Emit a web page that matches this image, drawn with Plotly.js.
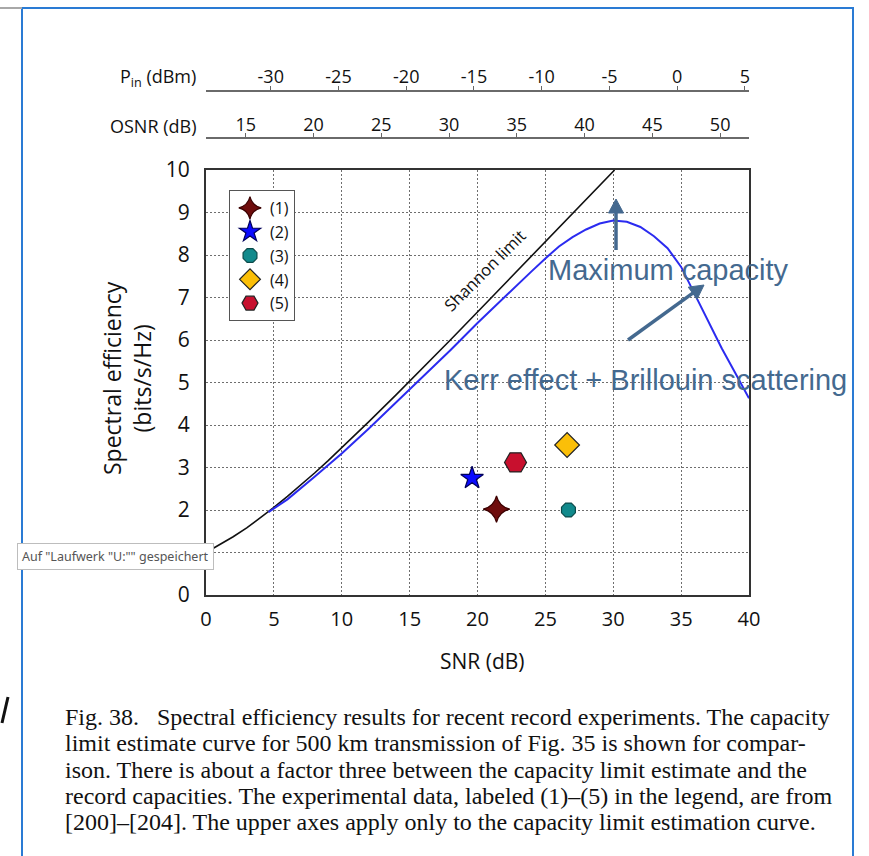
<!DOCTYPE html>
<html><head><meta charset="utf-8">
<script src="https://cdn.plot.ly/plotly-3.0.1.min.js"></script>
<style>html,body{margin:0;padding:0;background:#fff;overflow:hidden}</style>
</head><body><div id="chart" style="width:869px;height:856px"></div>
<script>
// ---- data ----
const snrShannon = [0,1,2,3,4,5,6,7,8,9,10,12,14,16,18,20,22,24,26,28,30,30.1];
const seShannon  = [1.00,1.18,1.37,1.58,1.81,2.06,2.32,2.59,2.87,3.16,3.46,4.08,4.71,5.35,6.00,6.66,7.32,7.98,8.64,9.30,9.97,10.0];

const snrCapacity = [4.6,6,8,10,12,14,16,18,20,22,24,25,26,27,28,29,30,31,32,33,34,35,36,37,38,39,40];
const seCapacity  = [1.95,2.25,2.78,3.33,3.92,4.53,5.14,5.76,6.40,7.02,7.62,7.92,8.20,8.42,8.60,8.74,8.81,8.78,8.66,8.44,8.16,7.72,7.08,6.42,5.80,5.22,4.63];

const expLabels = ['(1)','(2)','(3)','(4)','(5)'];
const expSnr    = [21.4, 19.6, 26.7, 26.6, 22.8];
const expSe     = [2.02, 2.75, 2.00, 3.53, 3.12];

const snrTicks  = [0,5,10,15,20,25,30,35,40];
const seTicks   = [0,2,3,4,5,6,7,8,9,10];   // "1" is hidden under the tooltip in the reference
const pinTicks  = [-30,-25,-20,-15,-10,-5,0,5];
const osnrTicks = [15,20,25,30,35,40,45,50];

const captionLines = [
  'Fig. 38.\u00a0\u00a0\u00a0Spectral efficiency results for recent record experiments. The capacity',
  'limit estimate curve for 500 km transmission of Fig. 35 is shown for compar-',
  'ison. There is about a factor three between the capacity limit estimate and the',
  'record capacities. The experimental data, labeled (1)\u2013(5) in the legend, are from',
  '[200]\u2013[204]. The upper axes apply only to the capacity limit estimation curve.'
];

// ---- styles ----
const expSymbols = ['star-diamond','star','octagon','diamond','hexagon2'];
const expColors  = ['#6e0c0c','#0a0aff','#118a8c','#fbbf08','#c8102e'];
const expSizes   = [19,17,15,19,22];
const expLines   = ['#3a0000','#00005a','#0b4a4a','#222222','#222222'];

const W=869,H=856,ML=206,MR=120,MT=60,MB=261;
const PW=W-ML-MR, PH=H-MT-MB;
function px(x){return (x-ML)/PW;}
function py(y){return (H-MB-y)/PH;}

const FONT='Open Sans';
const ANN='#44698f';

const traces = [
  {x:snrShannon, y:seShannon, mode:'lines', line:{color:'#111',width:1.6}, showlegend:false, hoverinfo:'skip'},
  {x:snrCapacity, y:seCapacity, mode:'lines', line:{color:'#2b2bf0',width:2}, showlegend:false, hoverinfo:'skip'}
];
for (let i=0;i<expLabels.length;i++){
  traces.push({x:[expSnr[i]], y:[expSe[i]], name:expLabels[i], mode:'markers',
    marker:{symbol:expSymbols[i], color:expColors[i], size:expSizes[i], line:{color:expLines[i],width:1.2}},
    cliponaxis:false});
}
traces.push({x:pinTicks, y:pinTicks.map(()=>5), xaxis:'x2', yaxis:'y', mode:'markers', marker:{opacity:0}, showlegend:false, hoverinfo:'skip'});
traces.push({x:osnrTicks, y:osnrTicks.map(()=>5), xaxis:'x3', yaxis:'y', mode:'markers', marker:{opacity:0}, showlegend:false, hoverinfo:'skip'});

const topAxis = (pos, range, ticks) => ({
  overlaying:'x', anchor:'free', position:pos, side:'top', range:range, tickvals:ticks, ticktext:ticks.map(v=>String(v)),
  ticks:'outside', ticklen:4, tickcolor:'#666', showline:true, linecolor:'#6a6a6a', linewidth:2, ticklabelstandoff:-5,
  showgrid:false, zeroline:false, tickfont:{family:FONT,size:18,color:'#111'}, fixedrange:true
});

function ann(text, x, y, font, extra){
  return Object.assign({text:text, x:px(x), y:py(y), xref:'paper', yref:'paper', xanchor:'center', yanchor:'middle',
    showarrow:false, font:font}, extra||{});
}

const annotations = [
  ann('SNR (dB)', 482, 661, {family:FONT,size:21,color:'#111'}),
  ann('Spectral efficiency<br>(bits/s/Hz)', 127, 378, {family:FONT,size:23,color:'#111'}, {textangle:-90}),
  ann('P<sub>in</sub> (dBm)', 198, 77, {family:FONT,size:18,color:'#111'}, {xanchor:'right'}),
  ann('OSNR (dB)', 198, 126, {family:FONT,size:18,color:'#111'}, {xanchor:'right'}),
  ann('Shannon limit', 484, 270, {family:FONT,size:16.5,color:'#111'}, {textangle:-45}),
  ann('Maximum capacity', 668, 270, {family:'Liberation Sans',size:29,color:ANN}),
  ann('Kerr effect + Brillouin scattering', 645, 380, {family:'Liberation Sans',size:29,color:ANN}),
  ann('Auf "Laufwerk "U:"" gespeichert', 17, 556, {family:'Noto Sans',size:12.5,color:'#555'},
      {xanchor:'left', bgcolor:'#ffffff', bordercolor:'#bdbdbd', borderwidth:1, borderpad:4})
];
const capY=[717,743,770,796,822];
captionLines.forEach((t,i)=>annotations.push(ann(t, 63, capY[i], {family:'Liberation Serif',size:24,color:'#111'}, {xanchor:'left'})));

// arrows drawn as shapes (tail -> tip, pixel positions)
function arrowShapes(tx,ty,hx,hy,color){
  const dx=hx-tx, dy=hy-ty, L=Math.hypot(dx,dy), ux=dx/L, uy=dy/L, nx=-uy, ny=ux;
  const hl=14, hw=7.5;
  const bx=hx-hl*ux, by=hy-hl*uy;
  const p=(x,y)=>px(x)+','+py(y);
  return [
    {type:'line', xref:'paper', yref:'paper', x0:px(tx), y0:py(ty), x1:px(bx+ux), y1:py(by+uy), line:{color:color,width:3.5}},
    {type:'path', xref:'paper', yref:'paper', path:'M'+p(hx,hy)+' L'+p(bx+hw*nx,by+hw*ny)+' L'+p(bx-hw*nx,by-hw*ny)+' Z',
     fillcolor:color, line:{color:color,width:1}}
  ];
}

const shapes = [
  {type:'rect', xref:'paper', yref:'paper', x0:px(22), x1:px(853), y0:py(8), y1:py(880), line:{color:'#2a7bd4',width:2}, fillcolor:'rgba(0,0,0,0)', layer:'below'},
  {type:'line', xref:'paper', yref:'paper', x0:px(0), x1:px(22), y0:py(8), y1:py(8), line:{color:'#a8a8a8',width:2}},
  {type:'line', xref:'paper', yref:'paper', x0:px(8), x1:px(2), y0:py(697), y1:py(723), line:{color:'#111',width:3}}
].concat(arrowShapes(616,250,616,199,ANN), arrowShapes(628,340,704,285,ANN));

const layout = {
  width:W, height:H, margin:{l:ML,r:MR,t:MT,b:MB,pad:0},
  paper_bgcolor:'#ffffff', plot_bgcolor:'#ffffff',
  font:{family:FONT,color:'#111'},
  xaxis:{domain:[0,1], range:[0,40], tickvals:snrTicks, showgrid:true, griddash:'2px,2px', gridcolor:'#6e6e6e', gridwidth:1,
    showline:true, mirror:true, linecolor:'#333', linewidth:2, zeroline:false, ticks:'', ticklabelstandoff:5,
    tickfont:{family:FONT,size:20,color:'#111'}, fixedrange:true},
  yaxis:{domain:[0,py(170)], range:[0,10], tickvals:seTicks, showgrid:true, griddash:'2px,2px', gridcolor:'#6e6e6e', gridwidth:1,
    minor:{dtick:1, showgrid:true, griddash:'2px,2px', gridcolor:'#6e6e6e', gridwidth:1, ticks:''},
    showline:true, mirror:true, linecolor:'#333', linewidth:2, zeroline:false, ticks:'', ticklabelstandoff:10,
    tickfont:{family:FONT,size:21,color:'#111'}, fixedrange:true},
  xaxis2: topAxis(py(90.5), [-34.78,5.3], pinTicks),
  xaxis3: topAxis(py(138.3), [12.06,52.13], osnrTicks),
  showlegend:true,
  legend:{x:px(229), y:py(190), xanchor:'left', yanchor:'top', bordercolor:'#555', borderwidth:1, bgcolor:'#fff',
    font:{family:FONT,size:16,color:'#111'}, traceorder:'normal'},
  annotations:annotations, shapes:shapes
};
Plotly.newPlot('chart', traces, layout, {displayModeBar:false, staticPlot:true});
</script></body></html>
